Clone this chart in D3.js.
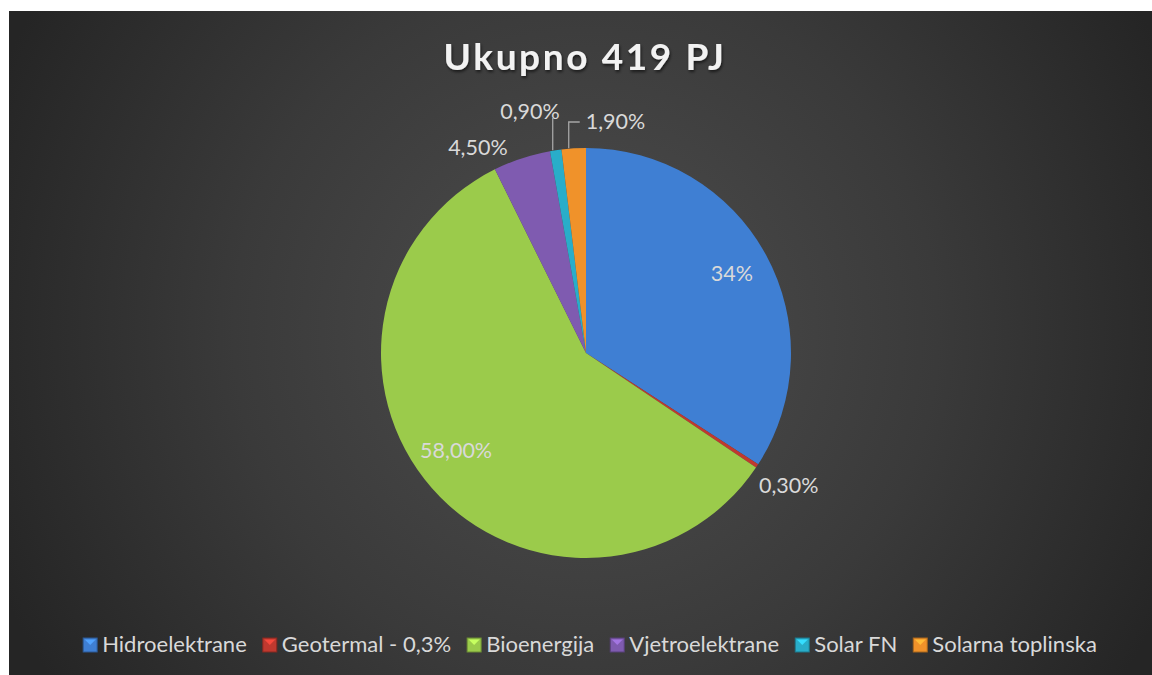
<!DOCTYPE html>
<html>
<head>
<meta charset="utf-8">
<script src="https://cdn.jsdelivr.net/npm/d3@7"></script>
<style>
  html, body { margin: 0; padding: 0; background: #ffffff; }
  svg { display: block; }
  text { font-family: "Lato", "Open Sans", sans-serif; }
</style>
</head>
<body>
<svg id="chart" width="1152" height="675"></svg>
<script>
// ---- data ----
const title = "Ukupno 419 PJ";
const categories = ["Hidroelektrane", "Geotermal - 0,3%", "Bioenergija", "Vjetroelektrane", "Solar FN", "Solarna toplinska"];
const values = [34, 0.3, 58, 4.5, 0.9, 1.9];
const valueLabels = ["34%", "0,30%", "58,00%", "4,50%", "0,90%", "1,90%"];
const colors = ["#3f7fd3", "#c0392f", "#9bcb4b", "#7f5bb0", "#29adc9", "#f0922a"];

// ---- layout ----
const W = 1152, H = 675;
const cx = 586, cy = 353, R = 205;
const svg = d3.select("#chart");
const defs = svg.append("defs");

// background
const bg = defs.append("radialGradient").attr("id", "bg")
  .attr("gradientUnits", "userSpaceOnUse")
  .attr("cx", 586).attr("cy", 330).attr("r", 640);
bg.append("stop").attr("offset", "0%").attr("stop-color", "#4e4e4e");
bg.append("stop").attr("offset", "55%").attr("stop-color", "#3a3a3a");
bg.append("stop").attr("offset", "100%").attr("stop-color", "#252525");
svg.append("rect").attr("x", 9).attr("y", 11).attr("width", W - 9).attr("height", H - 11)
  .attr("fill", "url(#bg)");

// shadow filter for title
const f = defs.append("filter").attr("id", "tshadow").attr("x", "-10%").attr("y", "-30%").attr("width", "120%").attr("height", "160%");
f.append("feDropShadow").attr("dx", 1).attr("dy", 2).attr("stdDeviation", 1.5)
  .attr("flood-color", "#000").attr("flood-opacity", 0.6);

svg.append("text")
  .attr("x", 585).attr("y", 70)
  .attr("text-anchor", "middle")
  .attr("font-size", 37).attr("font-weight", "bold")
  .attr("letter-spacing", 2.6)
  .attr("fill", "#f2f2f2")
  .attr("filter", "url(#tshadow)")
  .text(title);

// pie
const pie = d3.pie().sort(null).value(d => d.v);
const data = values.map((v, i) => ({ v, i, cat: categories[i], lab: valueLabels[i], col: colors[i] }));
const arcs = pie(data);
const arc = d3.arc().innerRadius(0).outerRadius(R);
const g = svg.append("g").attr("transform", `translate(${cx},${cy})`);

arcs.forEach((a, k) => {
  const id = "clip" + k;
  defs.append("clipPath").attr("id", id).append("path").attr("d", arc(a)).attr("transform", `translate(${cx},${cy})`);
  g.append("path").attr("d", arc(a)).attr("fill", a.data.col);
  svg.append("path").attr("d", arc(a))
    .attr("transform", `translate(${cx},${cy})`)
    .attr("clip-path", `url(#${id})`)
    .attr("fill", "none")
    .attr("stroke", "rgba(255,255,255,0.25)")
    .attr("stroke-width", 10);
  svg.append("path").attr("d", arc(a))
    .attr("transform", `translate(${cx},${cy})`)
    .attr("clip-path", `url(#${id})`)
    .attr("fill", "none")
    .attr("stroke", "rgba(0,0,0,0.3)")
    .attr("stroke-width", 3);
});

// labels
const lblColor = "#d9d9d9";
const FS = 21.5;
const lg = svg.append("g").attr("transform", `translate(${cx},${cy})`);
const inside = d3.arc().innerRadius(166).outerRadius(166);
const pt = (ang, r) => [r * Math.sin(ang), -r * Math.cos(ang)];

arcs.forEach((a, k) => {
  const mid = (a.startAngle + a.endAngle) / 2;
  const lab = a.data.lab;
  if (a.data.v > 10) {
    const c = inside.centroid(a);
    const nx = a.data.i === 2 ? -5 : 0, ny = a.data.i === 2 ? -11 : 0;
    lg.append("text").attr("x", c[0] + nx).attr("y", c[1] + 7 + ny)
      .attr("text-anchor", "middle").attr("font-size", FS).attr("fill", lblColor).text(lab);
  } else if (a.data.i === 1) {
    const p = pt(mid, R * 1.185);
    lg.append("text").attr("x", p[0]).attr("y", p[1] + 6)
      .attr("text-anchor", "middle").attr("font-size", FS).attr("fill", lblColor).text(lab);
  } else if (a.data.i === 3) {
    const p = pt(mid, R + 10);
    lg.append("text").attr("x", p[0] - 11).attr("y", p[1] + 6)
      .attr("text-anchor", "end").attr("font-size", FS).attr("fill", lblColor).text(lab);
  } else if (a.data.i === 4) {
    const p0 = pt(mid, R);
    const ytop = -R - 30;
    lg.append("path").attr("d", `M${p0[0] - 3},${p0[1]}V${ytop}`)
      .attr("stroke", "#a6a6a6").attr("stroke-width", 1.3).attr("fill", "none");
    lg.append("text").attr("x", p0[0] + 4).attr("y", ytop + 1)
      .attr("text-anchor", "end").attr("font-size", FS).attr("fill", lblColor).text(lab);
  } else if (a.data.i === 5) {
    const p0 = pt(mid, R);
    const ytop = -R - 26;
    lg.append("path").attr("d", `M${p0[0] - 5},${p0[1]}V${ytop}H${p0[0] + 6}`)
      .attr("stroke", "#a6a6a6").attr("stroke-width", 1.3).attr("fill", "none");
    lg.append("text").attr("x", p0[0] + 12).attr("y", ytop + 7)
      .attr("text-anchor", "start").attr("font-size", FS).attr("fill", lblColor).text(lab);
  }
});

// legend (font size fitted to the legend span)
const legend = svg.append("g");
const targetW = 1014;
function buildLegend(fs) {
  legend.selectAll("*").remove();
  const items = [];
  let x = 0;
  categories.forEach((c, i) => {
    const it = legend.append("g");
    it.append("rect").attr("x", 0).attr("y", -14).attr("width", 14).attr("height", 14)
      .attr("fill", colors[i]).attr("stroke", d3.color(colors[i]).darker(1)).attr("stroke-width", 1);
    it.append("path").attr("d", "M1.5,-12.5H12.5L7,-7Z").attr("fill", d3.color(colors[i]).brighter(0.7));
    const t = it.append("text").attr("x", 19).attr("y", 0).attr("font-size", fs).attr("fill", lblColor).text(c);
    const w = 19 + t.node().getComputedTextLength();
    items.push({ it, x });
    x += w + 16;
  });
  return { items, total: x - 16 };
}
let res = buildLegend(20);
const textPart = res.total - 6 * 19 - 5 * 16;
const fs2 = 20 * (targetW - 6 * 19 - 5 * 16) / textPart;
res = buildLegend(fs2);
const lx0 = 590 - res.total / 2;
res.items.forEach(o => o.it.attr("transform", `translate(${lx0 + o.x},652)`));
</script>
</body>
</html>
